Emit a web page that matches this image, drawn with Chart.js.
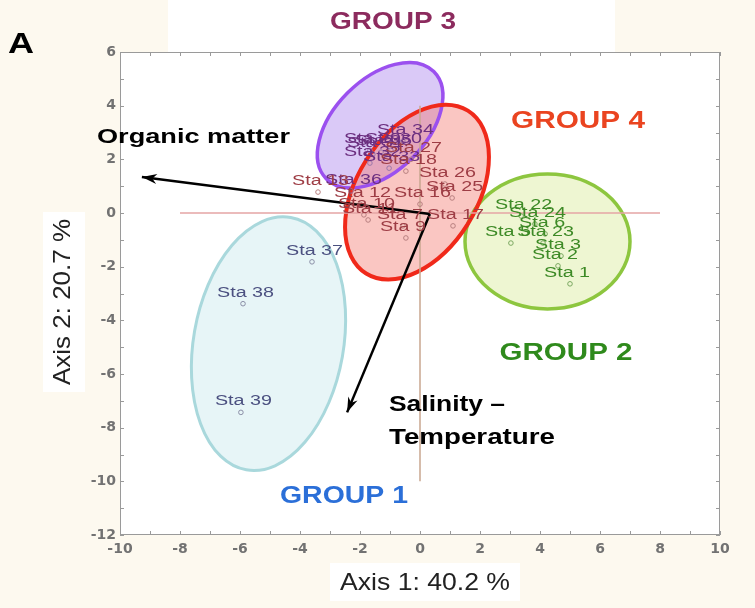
<!DOCTYPE html>
<html><head><meta charset="utf-8">
<script src="https://cdn.jsdelivr.net/npm/chart.js@4.4.1/dist/chart.umd.min.js"></script>
<style>html,body{margin:0;padding:0;background:#fdf9ef;}canvas{display:block;}</style>
</head><body>
<canvas id="c" width="755" height="608"></canvas>
<script>
// ---- tick values ----
const xTickValues = [-10,-8,-6,-4,-2,0,2,4,6,8,10];
const yTickValues = [-12,-10,-8,-6,-4,-2,0,2,4,6];

// ---- stations (PCA scores) ----
const group1Labels = ['Sta 37','Sta 38','Sta 39'];
const group1X = [-3.6,-5.9,-5.97];
const group1Y = [-1.82,-3.38,-7.43];

const group2Labels = ['Sta 22','Sta 24','Sta 6','Sta 5','Sta 23','Sta 3','Sta 2','Sta 1'];
const group2X = [3.37,3.83,4.17,3.03,4.1,4.7,4.6,5.0];
const group2Y = [-0.11,-0.41,-0.78,-1.12,-1.12,-1.6,-1.97,-2.64];

const group3Labels = ['Sta 34','Sta 29','Sta 30','Sta 31','Sta 35','Sta 32','Sta 33','Sta 36'];
const group3X = [-0.57,-1.67,-0.97,-1.57,-1.3,-1.67,-1.03,-2.3];
const group3Y = [2.68,2.34,2.34,2.19,2.27,1.86,1.67,0.82];

const group4Labels = ['Sta 27','Sta 18','Sta 26','Sta 25','Sta 16','Sta 12','Sta 13','Sta 10','Sta 11','Sta 7','Sta 17','Sta 9'];
const group4X = [-0.3,-0.47,0.83,1.07,0.0,-2.0,-3.4,-1.87,-1.73,-0.57,1.1,-0.47];
const group4Y = [2.0,1.56,1.08,0.56,0.33,0.33,0.78,-0.07,-0.26,-0.48,-0.48,-0.93];

// ---- group ellipses (centre in data units, semi-axes in x-axis units, tilt in degrees) ----
const groupNames = ['GROUP 1','GROUP 2','GROUP 3','GROUP 4'];
const ellipseCX = [-5.05, 4.25, -1.33, -0.1];
const ellipseCY = [-4.87, -1.06, 3.27, 0.78];
const ellipseA = [4.27, 2.75, 2.53, 3.2];
const ellipseB = [2.5, 2.25, 1.53, 2.0];
const ellipseTilt = [80, 0, 45, 58];

// ---- environmental vectors ----
const organicArrowX = [0.33, -9.27];
const organicArrowY = [-0.04, 1.34];
const salinityArrowX = [0.33, -2.43];
const salinityArrowY = [-0.04, -7.43];

// ---- reference axes through origin ----
const hRefX = [-8, 8];
const hRefY = [0, 0];
const vRefX = [0, 0];
const vRefY = [4, -10];

const pts = (xs, ys) => xs.map((x, i) => ({x, y: ys[i]}));

const groupLabelArrays = [group1Labels, group2Labels, group3Labels, group4Labels];
const groupLabelColors = ['#4b5080', '#3d8a26', '#6c2f80', '#9e3d45'];
const groupMarkerColors = ['#8c90a8', '#7aa860', '#9a78aa', '#b88080'];
const ellipseFill = ['rgba(160,215,222,0.25)','rgba(190,222,80,0.26)','rgba(150,100,232,0.35)','rgba(244,120,110,0.42)'];
const ellipseStroke = ['#a9d8dc','#8dc63f','#9b50ef','#f0291a'];
const ellipseWidth = [3, 3.5, 3.5, 4];

function drawFit(ctx, text, x, y, targetW, font, color, align, rotate) {
  ctx.save();
  ctx.font = font;
  const w = ctx.measureText(text).width;
  const s = targetW ? targetW / w : 1;
  ctx.translate(x, y);
  if (rotate) ctx.rotate(-Math.PI / 2);
  ctx.scale(s, 1);
  ctx.fillStyle = color;
  ctx.textAlign = align || 'left';
  ctx.textBaseline = 'middle';
  ctx.fillText(text, 0, 0);
  ctx.restore();
}

const decor = {
  id: 'decor',
  beforeDraw(chart) {
    const ctx = chart.ctx, a = chart.chartArea;
    ctx.save();
    ctx.fillStyle = '#fdf9ef';
    ctx.fillRect(0, 0, chart.width, chart.height);
    ctx.fillStyle = '#ffffff';
    ctx.fillRect(168, 0, 447, a.top);
    ctx.fillRect(a.left, a.top, a.right - a.left, a.bottom - a.top);
    ctx.fillRect(43, 212, 42, 180);
    ctx.fillRect(330, 563, 190, 38);
    ctx.restore();
  },
  beforeDatasetsDraw(chart) {
    const ctx = chart.ctx, xs = chart.scales.x, ys = chart.scales.y;
    const k = Math.abs(xs.getPixelForValue(1) - xs.getPixelForValue(0));
    const path = i => {
      ctx.beginPath();
      ctx.ellipse(xs.getPixelForValue(ellipseCX[i]), ys.getPixelForValue(ellipseCY[i]),
        ellipseA[i] * k, ellipseB[i] * k, -ellipseTilt[i] * Math.PI / 180, 0, Math.PI * 2);
    };
    ctx.save();
    for (let i = 0; i < 4; i++) { path(i); ctx.fillStyle = ellipseFill[i]; ctx.fill(); }
    for (let i = 0; i < 4; i++) { path(i); ctx.strokeStyle = ellipseStroke[i]; ctx.lineWidth = ellipseWidth[i]; ctx.stroke(); }
    ctx.restore();
  },
  afterDatasetsDraw(chart) {
    const ctx = chart.ctx;
    ctx.save();
    ctx.font = '14px "Liberation Sans"';
    const sx = 57 / ctx.measureText('Sta 38').width;
    for (let g = 0; g < 4; g++) {
      const meta = chart.getDatasetMeta(4 + g);
      meta.data.forEach((p, i) => {
        drawFit(ctx, groupLabelArrays[g][i], p.x - 26, p.y - 11,
          sx * ctx.measureText(groupLabelArrays[g][i]).width, '14px "Liberation Sans"', groupLabelColors[g], 'left');
      });
    }
    // arrowheads
    [0, 1].forEach(d => {
      const m = chart.getDatasetMeta(d).data;
      const p0 = m[0], p1 = m[1];
      const ang = Math.atan2(p1.y - p0.y, p1.x - p0.x);
      const L = 15, H = 5;
      ctx.beginPath();
      ctx.moveTo(p1.x, p1.y);
      ctx.lineTo(p1.x - L * Math.cos(ang) + H * Math.sin(ang), p1.y - L * Math.sin(ang) - H * Math.cos(ang));
      ctx.lineTo(p1.x - L * 0.7 * Math.cos(ang), p1.y - L * 0.7 * Math.sin(ang));
      ctx.lineTo(p1.x - L * Math.cos(ang) - H * Math.sin(ang), p1.y - L * Math.sin(ang) + H * Math.cos(ang));
      ctx.closePath();
      ctx.fillStyle = '#000';
      ctx.fill();
    });
    ctx.restore();
  },
  afterDraw(chart) {
    const ctx = chart.ctx, a = chart.chartArea, xs = chart.scales.x, ys = chart.scales.y;
    ctx.save();
    ctx.strokeStyle = '#9a9a9a';
    ctx.lineWidth = 1;
    ctx.strokeRect(a.left + 0.5, a.top + 0.5, a.right - a.left - 1, a.bottom - a.top - 1);
    ctx.beginPath();
    for (let v = -10; v <= 10; v++) {
      const x = Math.round(xs.getPixelForValue(v)) + 0.5;
      ctx.moveTo(x, a.bottom); ctx.lineTo(x, a.bottom - 4);
      ctx.moveTo(x, a.top); ctx.lineTo(x, a.top + 4);
    }
    for (let v = -12; v <= 6; v++) {
      const y = Math.round(ys.getPixelForValue(v)) + 0.5;
      ctx.moveTo(a.left, y); ctx.lineTo(a.left + 4, y);
      ctx.moveTo(a.right, y); ctx.lineTo(a.right - 4, y);
    }
    ctx.stroke();
    ctx.restore();

    drawFit(ctx, 'A', 8, 45, 26, 'bold 30px "Liberation Sans"', '#000', 'left');
    drawFit(ctx, 'GROUP 3', 393, 22, 126, 'bold 24px "Liberation Sans"', '#8c2b5e', 'center');
    drawFit(ctx, 'GROUP 4', 578, 121, 134, 'bold 24px "Liberation Sans"', '#ea4420', 'center');
    drawFit(ctx, 'GROUP 2', 566, 353, 133, 'bold 24px "Liberation Sans"', '#2f8a1c', 'center');
    drawFit(ctx, 'GROUP 1', 344, 496, 128, 'bold 24px "Liberation Sans"', '#2b6fd8', 'center');
    drawFit(ctx, 'Organic matter', 97, 137, 193, 'bold 21px "Liberation Sans"', '#000', 'left');
    drawFit(ctx, 'Salinity \u2013', 389, 405, 116, 'bold 22px "Liberation Sans"', '#000', 'left');
    drawFit(ctx, 'Temperature', 389, 438, 166, 'bold 22px "Liberation Sans"', '#000', 'left');
    drawFit(ctx, 'Axis 1: 40.2 %', 425, 583, 170, '24px "Liberation Sans Narrow", "Liberation Sans"', '#222', 'center');
    drawFit(ctx, 'Axis 2: 20.7 %', 63, 302, 166, '24px "Liberation Sans Narrow", "Liberation Sans"', '#222', 'center', true);
  }
};

const lineDs = (xs, ys, color, width, order) => ({
  type: 'line', data: pts(xs, ys), borderColor: color, borderWidth: width,
  pointRadius: 0, fill: false, showLine: true, order
});
const groupDs = g => ({
  type: 'scatter',
  data: pts([group1X, group2X, group3X, group4X][g], [group1Y, group2Y, group3Y, group4Y][g]),
  pointStyle: 'circle', pointRadius: 2.3, borderWidth: 1,
  borderColor: groupMarkerColors[g], backgroundColor: 'rgba(255,255,255,0)', order: 1
});

new Chart(document.getElementById('c'), {
  data: {
    datasets: [
      lineDs(organicArrowX, organicArrowY, '#000', 2.5, 0),
      lineDs(salinityArrowX, salinityArrowY, '#000', 2.5, 0),
      lineDs(hRefX, hRefY, '#e4a5a5', 1.5, 3),
      lineDs(vRefX, vRefY, '#c9a690', 1.5, 3),
      groupDs(0), groupDs(1), groupDs(2), groupDs(3)
    ]
  },
  options: {
    responsive: false,
    animation: false,
    events: [],
    layout: { padding: { left: 70, right: 35, top: 52, bottom: 33 } },
    plugins: { legend: { display: false }, tooltip: { enabled: false } },
    scales: {
      x: {
        type: 'linear', min: -10, max: 10,
        afterFit: s => { s.height = 40; },
        afterBuildTicks: s => { s.ticks = xTickValues.map(v => ({ value: v })); },
        ticks: { padding: 6, font: { family: 'DejaVu Sans', size: 14, weight: 'bold' }, color: '#727272', maxRotation: 0 },
        grid: { display: false, drawTicks: false },
        border: { display: false }
      },
      y: {
        type: 'linear', min: -12, max: 6,
        afterFit: s => { s.width = 50; },
        afterBuildTicks: s => { s.ticks = yTickValues.map(v => ({ value: v })); },
        ticks: { padding: 4, font: { family: 'DejaVu Sans', size: 14, weight: 'bold' }, color: '#727272' },
        grid: { display: false, drawTicks: false },
        border: { display: false }
      }
    }
  },
  plugins: [decor]
});
</script>
</body></html>
